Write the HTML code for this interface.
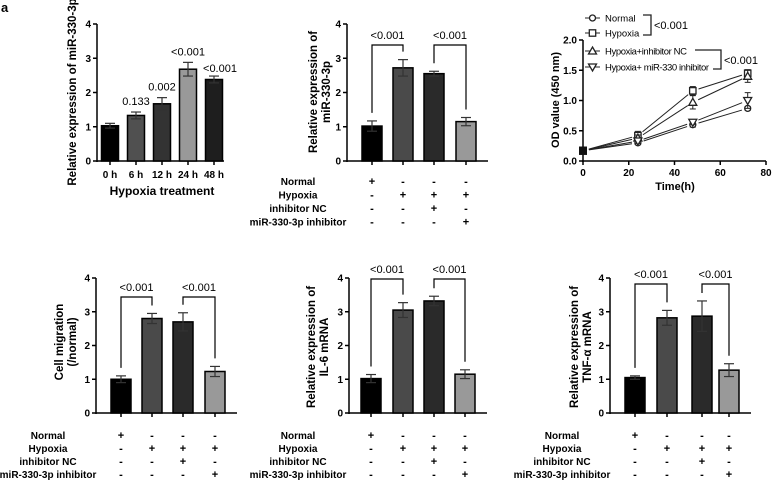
<!DOCTYPE html>
<html><head><meta charset="utf-8"><style>
body{margin:0;background:#fff;}
svg{display:block;font-family:"Liberation Sans",Arial,sans-serif;}
.b{font-weight:bold}
</style></head><body>
<svg id="s" width="772" height="484" viewBox="0 0 772 484">
<text x="1" y="12" font-size="13" class="b">a</text>
</svg>
<script>
const NS="http://www.w3.org/2000/svg";
const svg=document.getElementById('s');
function mk(tag,attrs,parent,txt){const e=document.createElementNS(NS,tag);for(const k in attrs)e.setAttribute(k,attrs[k]);if(txt!==undefined)e.textContent=txt;(parent||svg).appendChild(e);return e;}

// ---- data ----
const catsA=["0 h","6 h","12 h","24 h","48 h"];
const valsA=[1.03,1.33,1.67,2.68,2.38];
const errA=[0.07,0.1,0.18,0.2,0.1];
const pA=["","0.133","0.002","<0.001","<0.001"];
const valsB=[1.02,2.72,2.55,1.15];
const errB=[0.15,0.24,0.07,0.12];
const valsD=[1.0,2.8,2.7,1.23];
const errD=[0.1,0.15,0.27,0.15];
const valsE=[1.02,3.05,3.32,1.15];
const errE=[0.12,0.22,0.14,0.13];
const valsF=[1.05,2.82,2.87,1.27];
const errF=[0.05,0.22,0.45,0.19];
const timeC=[0,24,48,72];
const seriesNames=["Normal","Hypoxia","Hypoxia+inhibitor NC","Hypoxia+ miR-330 inhibitor"];
const sNormal=[0.17,0.30,0.60,0.87];
const sHypoxia=[0.17,0.42,1.16,1.45];
const sNC=[0.17,0.38,0.97,1.40];
const sInh=[0.17,0.33,0.64,1.0];
const eHypoxia=[0.02,0.07,0.07,0.06];
const eNC=[0.02,0.05,0.11,0.10];
const eInh=[0.02,0.04,0.04,0.13];
const eNormal=[0.02,0.03,0.04,0.03];
const ticksBar=[0,1,2,3,4];
const ticksCY=[0,0.5,1.0,1.5,2.0];
const ticksCX=[0,20,40,60,80];
const rowLabels=["Normal","Hypoxia","inhibitor NC","miR-330-3p inhibitor"];
const signs=[["+","-","-","-"],["-","+","+","+"],["-","-","+","-"],["-","-","-","+"]];
const colsA=["#000","#505050","#333","#999","#1e1e1e"];
const cols4=["#000","#4a4a4a","#2a2a2a","#999"];

function yAxis(g,ax,y0,y4,ticks,max,fmt){
  const ys=v=>y0-(v/max)*(y0-y4);
  mk('line',{x1:ax,y1:y0+1,x2:ax,y2:y4,stroke:'#000','stroke-width':1.5},g);
  ticks.forEach(t=>{mk('line',{x1:ax-4,y1:ys(t),x2:ax,y2:ys(t),stroke:'#000','stroke-width':1.5},g);
    const tt=mk('text',{x:ax-6,y:ys(t)+3.5,'font-size':10,'text-anchor':'end',class:'b'},g,fmt?fmt(t):t);
    });
  return ys;
}
function barPanel(name,o){
  const g=mk('g',{});
  
  const ys=yAxis(g,o.ax,o.y0,o.y4,ticksBar,4);
  mk('line',{x1:o.ax,y1:o.y0,x2:o.xend,y2:o.y0,stroke:'#000','stroke-width':1.5},g);
  o.vals.forEach((v,i)=>{
    const cx=o.xs[i],w=o.bw;
    const r=mk('rect',{x:cx-w/2,y:ys(v),width:w,height:o.y0-ys(v),fill:o.cols[i],stroke:'#000','stroke-width':1.5},g);
    
    const e=o.errs[i];
    mk('line',{x1:cx,y1:ys(v-e),x2:cx,y2:ys(v+e),stroke:'#333','stroke-width':1.2},g);
    mk('line',{x1:cx-5,y1:ys(v+e),x2:cx+5,y2:ys(v+e),stroke:'#333','stroke-width':1.2},g);
    mk('line',{x1:cx-5,y1:ys(v-e),x2:cx+5,y2:ys(v-e),stroke:'#333','stroke-width':1.2},g);
    mk('line',{x1:cx,y1:o.y0,x2:cx,y2:o.y0+4,stroke:'#000','stroke-width':1.5},g);
  });
  const yl=mk('text',{transform:`translate(${o.lx},${o.ly}) rotate(-90)`,'font-size':11.5,'text-anchor':'middle',class:'b'},g);
  
  o.ylab.forEach((s,i)=>{mk('tspan',{x:0,dy:i?13:0},yl,s);});
  if(o.rows){
    rowLabels.forEach((lab,r)=>{
      const ry=o.rowY+r*o.rowS;
      const t=mk('text',{x:o.rowX,y:ry,'font-size':10,'text-anchor':'middle',class:'b'},g,lab);
      
      signs[r].forEach((s,i)=>{mk('text',{x:o.xs[i],y:ry,'font-size':11,'text-anchor':'middle',class:'b'},g,s);});
    });
  }
  if(o.brackets){
    [[0,1],[2,3]].forEach(([a,b])=>{
      const top=o.bt;
      const la=ys(o.vals[a]+o.errs[a])-8, lb=ys(o.vals[b]+o.errs[b])-8;
      mk('path',{d:`M${o.xs[a]},${la}V${top}H${o.xs[b]}V${lb}`,fill:'none',stroke:'#000','stroke-width':1.2},g);
      const t=mk('text',{x:(o.xs[a]+o.xs[b])/2,y:top-6,'font-size':11,'text-anchor':'middle'},g,'<0.001');
      
    });
  }
  return {g,ys};
}
const pa=barPanel('bar-chart-hypoxia-time',{ax:97,y0:161,y4:24,xend:224,xs:[110,136,162,188,214],bw:17,vals:valsA,errs:errA,cols:colsA,lx:76,ly:92,ylab:["Relative expression of miR-330-3p"]});
catsA.forEach((c,i)=>{const t=mk('text',{x:[110,136,162,188,214][i],y:178,'font-size':10,'text-anchor':'middle',class:'b'},pa.g,c);
 if(pA[i]){const p=mk('text',{x:[110,136,162,188,214][i]+(i==4?6:0),y:pa.ys(valsA[i]+errA[i])-(i==4?4:7),'font-size':11,'text-anchor':'middle'},pa.g,pA[i]);}});
{const t=mk('text',{x:162,y:195,'font-size':12,'text-anchor':'middle',class:'b'},pa.g,'Hypoxia treatment');}
barPanel('bar-chart-mir330',{ax:347,y0:161,y4:24,xend:488,xs:[372,403,434,466],bw:20,vals:valsB,errs:errB,cols:cols4,lx:317,ly:92,ylab:["Relative expression of","miR-330-3p"],rows:true,rowX:298,rowY:185,rowS:13.5,brackets:true,bt:45});
barPanel('bar-chart-cell-migration',{ax:96,y0:413,y4:278,xend:237,xs:[121,152,183,215],bw:20,vals:valsD,errs:errD,cols:cols4,lx:63,ly:342,ylab:["Cell migration","(/normal)"],rows:true,rowX:48,rowY:439,rowS:13,brackets:true,bt:297});
barPanel('bar-chart-il6',{ax:349,y0:413,y4:278,xend:487,xs:[371,403,434,465],bw:20,vals:valsE,errs:errE,cols:cols4,lx:315,ly:347,ylab:["Relative expression of","IL-6 mRNA"],rows:true,rowX:298,rowY:439,rowS:13,brackets:true,bt:279});
barPanel('bar-chart-tnf',{ax:610,y0:413,y4:278,xend:751,xs:[635,667,702,729],bw:20,vals:valsF,errs:errF,cols:cols4,lx:578,ly:347,ylab:["Relative expression of","TNF-α mRNA"],rows:true,rowX:562,rowY:439,rowS:13,brackets:true,bt:284});

(function(){
  const g=mk('g',{});
  
  const ax=583,y0=161,yTop=40,xEnd=766;
  const ys=v=>y0-(v/2)*(y0-yTop);
  const xs=t=>ax+(t/80)*(xEnd-ax);
  yAxis(g,ax,y0,yTop,ticksCY,2,t=>t.toFixed(1));
  mk('line',{x1:ax-1,y1:y0,x2:xEnd,y2:y0,stroke:'#000','stroke-width':1.5},g);
  ticksCX.forEach(t=>{mk('line',{x1:xs(t),y1:y0,x2:xs(t),y2:y0+4,stroke:'#000','stroke-width':1.5},g);
    const tt=mk('text',{x:xs(t),y:y0+15,'font-size':10,'text-anchor':'middle',class:'b'},g,t);});
  const xt=mk('text',{x:675,y:190,'font-size':11,'text-anchor':'middle',class:'b'},g,'Time(h)');
  const yl=mk('text',{transform:`translate(559,100) rotate(-90)`,'font-size':11,'text-anchor':'middle',class:'b'},g,'OD value (450 nm)');
  const series=[sNormal,sHypoxia,sNC,sInh], errs=[eNormal,eHypoxia,eNC,eInh];
  function marker(k,x,y,p){
    if(k==0)return mk('circle',{cx:x,cy:y,r:3,fill:'#fff',stroke:'#222','stroke-width':1.3},p);
    if(k==1)return mk('rect',{x:x-3.2,y:y-3.2,width:6.4,height:6.4,fill:'#fff',stroke:'#222','stroke-width':1.3},p);
    if(k==2)return mk('path',{d:`M${x},${y-4}L${x+4},${y+3}L${x-4},${y+3}Z`,fill:'#fff',stroke:'#222','stroke-width':1.3},p);
    return mk('path',{d:`M${x},${y+4}L${x+4},${y-3}L${x-4},${y-3}Z`,fill:'#fff',stroke:'#222','stroke-width':1.3},p);
  }
  series.forEach((s,k)=>{
    const sg=mk('g',{},g);
    
    for(let i=0;i<s.length-1;i++){
      const x1=xs(timeC[i]),y1=ys(s[i]),x2=xs(timeC[i+1]),y2=ys(s[i+1]);
      const dx=x2-x1,dy=y2-y1,L=Math.hypot(dx,dy),g0=6;
      mk('line',{x1:x1+dx/L*g0,y1:y1+dy/L*g0,x2:x2-dx/L*g0,y2:y2-dy/L*g0,stroke:'#222','stroke-width':1},sg);
    }
    s.forEach((v,i)=>{const x=xs(timeC[i]),e=errs[k][i];
      mk('line',{x1:x,y1:ys(v-e),x2:x,y2:ys(v+e),stroke:'#222','stroke-width':1},sg);
      mk('line',{x1:x-3,y1:ys(v+e),x2:x+3,y2:ys(v+e),stroke:'#222','stroke-width':1},sg);
      mk('line',{x1:x-3,y1:ys(v-e),x2:x+3,y2:ys(v-e),stroke:'#222','stroke-width':1},sg);
      if(i==0){mk('rect',{x:x-4,y:ys(v)-4,width:8,height:8,fill:'#111'},sg);}
      else{const m=marker(k,x,ys(v),sg);}
    });
  });
  const legY=[18,33,51,67];
  seriesNames.forEach((n,k)=>{
    const lg=mk('g',{},g);
    
    mk('line',{x1:585,y1:legY[k],x2:600,y2:legY[k],stroke:'#222','stroke-width':1},lg);
    marker(k,592.5,legY[k],lg);
    mk('text',{x:605,y:legY[k]+3.5,'font-size':9.5,textLength:k==3?104:(k==2?82:null)},lg,n);
  });
  g.querySelectorAll('text[textLength="null"]').forEach(t=>t.removeAttribute('textLength'));
  mk('path',{d:'M643,15H651V35H643',fill:'none',stroke:'#222','stroke-width':1.3},g);
  mk('text',{x:654,y:29,'font-size':11},g,'<0.001');
  mk('path',{d:'M695,50H721V69H713',fill:'none',stroke:'#222','stroke-width':1.3},g);
  mk('text',{x:724,y:64,'font-size':11},g,'<0.001');
})();
</script>
</body></html>
